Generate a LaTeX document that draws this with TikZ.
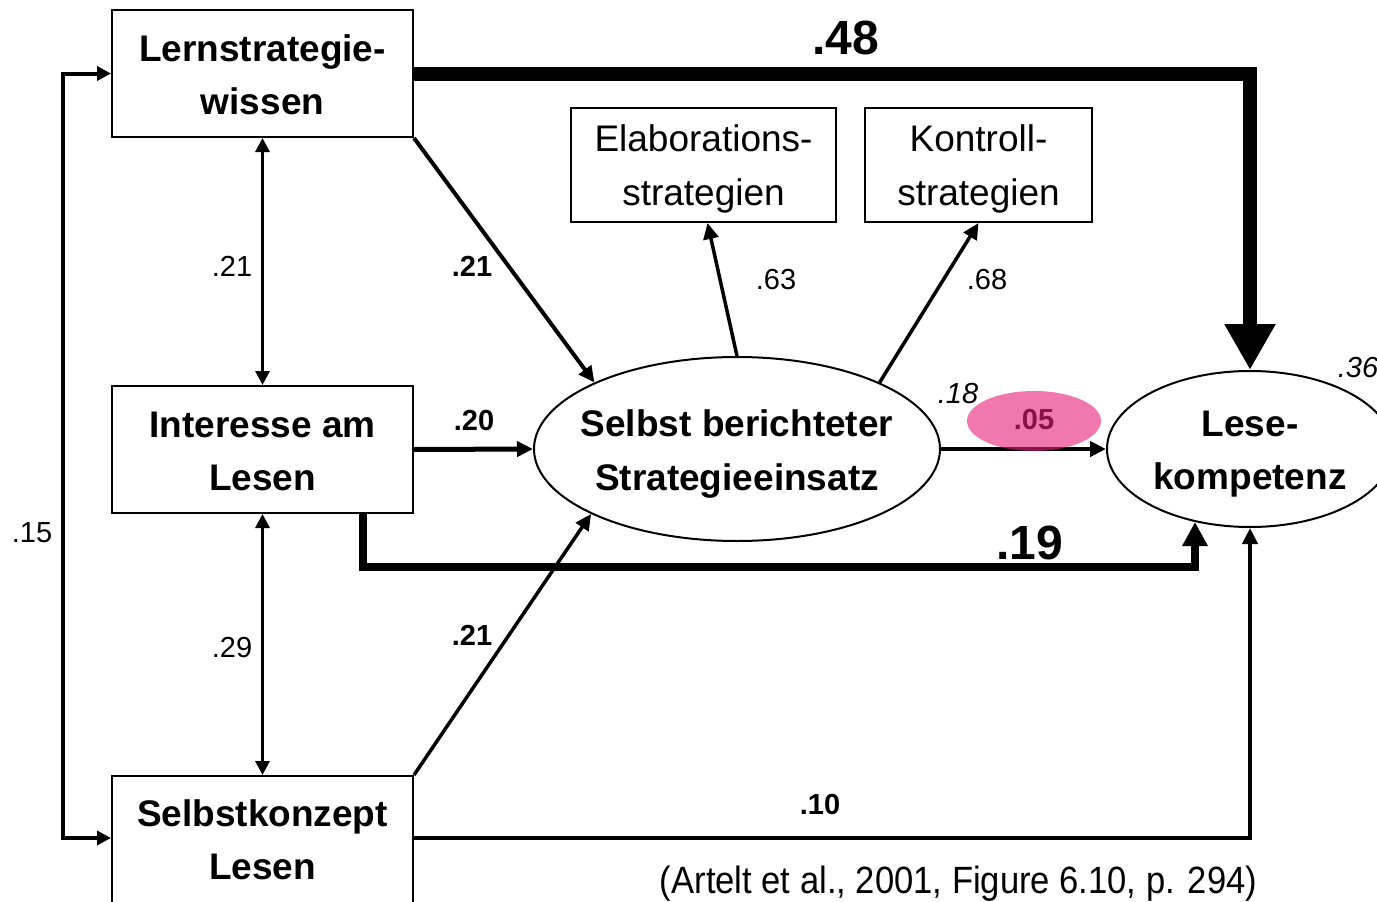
\documentclass[tikz,border=0pt]{standalone}
\usepackage{fontspec}
\setmainfont{Liberation Sans}
\usetikzlibrary{arrows.meta,shapes.geometric}
\definecolor{hl}{RGB}{232,30,120}
\begin{document}
\begin{tikzpicture}[x=1pt,y=-1pt,
 box/.style={draw,line width=2pt,inner sep=0pt},
 boldtxt/.style={font=\fontsize{37}{53}\selectfont\bfseries,align=center,inner sep=0pt},
 regtxt/.style={font=\fontsize{37}{54}\selectfont,align=center,inner sep=0pt},
 ell/.style={draw,ellipse,line width=2pt,inner sep=0pt},
 lbl/.style={font=\fontsize{29}{30}\selectfont,inner sep=0pt},
 blbl/.style={font=\fontsize{29}{30}\selectfont\bfseries,inner sep=0pt},
 biglbl/.style={font=\fontsize{48}{50}\selectfont\bfseries,inner sep=0pt},
 ilbl/.style={font=\fontsize{29}{30}\selectfont\itshape,inner sep=0pt},
 arrS/.style={-{Triangle[width=15pt,length=16pt]}},
 arrD/.style={{Triangle[width=14pt,length=14pt]}-{Triangle[width=14pt,length=14pt]}},
]
\useasboundingbox (0,0) rectangle (1377,902);
% boxes
\node[box,minimum width=301pt,minimum height=127pt] (lern) at (262.5,73.5) {};
\node[boldtxt] (lernT) at (262.5,74.5) {Lernstrategie-\\wissen};
\node[box,minimum width=301pt,minimum height=127pt] (inter) at (262.5,449.5) {};
\node[boldtxt] (interT) at (262.5,451.5) {Interesse am\\Lesen};
\node[box,minimum width=301pt,minimum height=130pt] (selbst) at (262.5,841) {};
\node[boldtxt] (selbstT) at (262.5,840) {Selbstkonzept\\Lesen};
\node[box,minimum width=265pt,minimum height=114pt] (elab) at (703.5,165) {};
\node[regtxt] (elabT) at (703.5,168.5) {Elaborations-\\strategien};
\node[box,minimum width=227pt,minimum height=114pt] (kontr) at (978.5,165) {};
\node[regtxt] (kontrT) at (978.5,168.5) {Kontroll-\\strategien};
% ellipses
\node[ell,minimum width=406pt,minimum height=184pt] (strat) at (737,449) {};
\node[boldtxt,font=\fontsize{37}{54}\selectfont\bfseries] (stratT) at (737,454.5) {Selbst berichteter\\Strategieeinsatz};
\node[ell,minimum width=286pt,minimum height=156pt] (lese) at (1250,449) {};
\node[boldtxt] (leseT) at (1250,454.5) {Lese-\\kompetenz};
% connectors
\draw[line width=14pt,-{Triangle[width=48pt,length=46pt]}] (lern.east) -| (lese.north);
\draw[line width=8pt,-{Triangle[width=24pt,length=24pt]}] ([xshift=100.5pt]inter.south) -- ++(0,53) -| (lese.233);
\draw[line width=4.5pt,arrS] ([yshift=3pt]selbst.east) -| (lese.south);
\draw[line width=5pt,arrS] (inter.east) -- (strat.west);
\draw[line width=4.5pt,arrS] (strat.east) -- (lese.west);
\draw[line width=4pt,arrS] (lern.south east) -- (strat.155);
\draw[line width=3.5pt,arrS] (selbst.north east) -- (strat.204.6);
\draw[line width=3.5pt,arrS] (strat.north) -- ([xshift=4pt]elab.south);
\draw[line width=3.5pt,arrS] (strat.25) -- (kontr.south);
\draw[line width=3pt,arrD] (lern.south) -- (inter.north);
\draw[line width=3pt,arrD] (inter.south) -- (selbst.north);
\draw[line width=4pt,arrD] (lern.west) -- ++(-48,0) |- ([yshift=3pt]selbst.west);
% labels
\node[biglbl] (l48) at (846,38) {.48};
\node[lbl] (l21a) at (232,266) {.21};
\node[blbl] (l21b) at (472,266) {.21};
\node[lbl] (l63) at (776,280) {.63};
\node[lbl] (l68) at (987,280) {.68};
\node[ilbl] (l36) at (1358,368) {.36};
\node[ilbl] (l18) at (958,394) {.18};
\node[blbl] (l20) at (474,421) {.20};
\node[biglbl] (l19) at (1030,543) {.19};
\node[blbl] (l21c) at (472,635) {.21};
\node[lbl] (l29) at (232,648) {.29};
\node[lbl] (l15) at (32,533) {.15};
\node[blbl] (l10) at (820,805) {.10};
\node[blbl] (l05) at (1034,420) {.05};
\node[ellipse,fill=hl,fill opacity=0.6,minimum width=134pt,minimum height=60pt,inner sep=0pt] (hlE) at (1034,421) {};
\node[inner sep=0pt,anchor=base] (cite) at (958.5,893) {\fontsize{38}{40}\selectfont\scalebox{0.91}[1]{(Artelt et al., 2001, Figure 6.10, p. 294)}};
\end{tikzpicture}
\end{document}
